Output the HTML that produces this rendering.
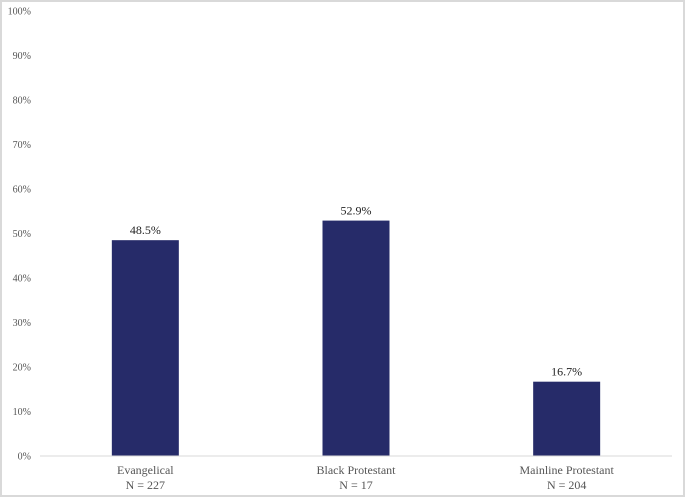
<!DOCTYPE html>
<html><head><style>
body{margin:0;background:#fff;}
svg text{font-family:"Liberation Serif",serif;fill:#555;}
</style></head><body>
<svg width="685" height="497">
<rect x="1" y="1" width="683" height="495" fill="#fff" stroke="#d9d9d9" stroke-width="2"/>
<g id="yaxis"></g>
<g id="bars"></g>
<line x1="40" x2="672" y1="456" y2="456" stroke="#d9d9d9" stroke-width="1"/>
</svg>
<script>
const categories=["Evangelical","Black Protestant","Mainline Protestant"];
const nLabels=["N = 227","N = 17","N = 204"];
const values=[48.5,52.9,16.7];
const yTicks=[0,10,20,30,40,50,60,70,80,90,100];
const ns="http://www.w3.org/2000/svg";
const y0=456,yTop=11,left=40,right=672;
function yScale(v){return y0-(y0-yTop)*v/100;}
function xCenter(i){const bw=(right-left)/categories.length;return left+bw*(i+0.5);}
const ya=document.getElementById('yaxis');
yTicks.forEach(t=>{
 const tx=document.createElementNS(ns,'text');
 
 
 tx.setAttribute('x',31);tx.setAttribute('y',yScale(t)+3.5);
 tx.setAttribute('text-anchor','end');tx.setAttribute('font-size','10');
 tx.textContent=t+'%';ya.appendChild(tx);
});
const bg=document.getElementById('bars');
values.forEach((v,i)=>{
 const cx=xCenter(i),w=67;
 const r=document.createElementNS(ns,'rect');
 
 
 r.setAttribute('x',cx-w/2);r.setAttribute('y',yScale(v));
 r.setAttribute('width',w);r.setAttribute('height',y0-yScale(v));
 r.setAttribute('fill','#262b69');bg.appendChild(r);
 const l=document.createElementNS(ns,'text');
 
 
 l.setAttribute('x',cx);l.setAttribute('y',yScale(v)-6);
 l.setAttribute('text-anchor','middle');l.setAttribute('font-size','12');
 l.setAttribute('style','fill:#222');
 l.textContent=v.toFixed(1)+'%';bg.appendChild(l);
 const c=document.createElementNS(ns,'text');
 
 
 c.setAttribute('x',cx);c.setAttribute('y',474);
 c.setAttribute('text-anchor','middle');c.setAttribute('font-size','12');
 c.textContent=categories[i];bg.appendChild(c);
 const n=document.createElementNS(ns,'text');
 
 
 n.setAttribute('x',cx);n.setAttribute('y',489);
 n.setAttribute('text-anchor','middle');n.setAttribute('font-size','12');
 n.textContent=nLabels[i];bg.appendChild(n);
});
</script>
</body></html>
